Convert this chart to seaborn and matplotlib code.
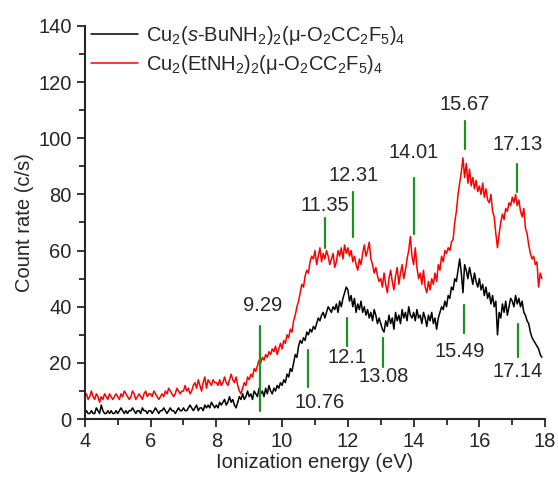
import numpy as np
import pandas as pd
import matplotlib.pyplot as plt
import seaborn as sns

# photoelectron spectra, sampled every 0.05 eV from 4.0 to 17.9 eV
energy = np.round(np.arange(4.0, 17.9001, 0.05), 2)

sbu_rate = [
    2, 3, 2, 2, 3, 2, 2, 4, 3, 2, 5, 3, 2, 2, 3, 2, 3, 2, 2, 3,            # 4-5
    2, 3, 4, 3, 2, 3, 2, 3, 3, 4, 3, 2, 3, 3, 2, 4, 3, 3, 2, 3,            # 5-6
    3, 2, 3, 4, 3, 2, 3, 3, 4, 3, 2, 3, 4, 3, 3, 2, 3, 4, 3, 3,            # 6-7
    4, 3, 3, 4, 5, 4, 3, 4, 5, 3, 4, 4, 3, 5, 4, 5, 4, 6, 5, 4,            # 7-8
    5, 4, 6, 5, 6, 7, 5, 6, 8, 6, 7, 5, 4, 6, 8, 7, 9, 7, 8, 10,           # 8-9
    8, 9, 7, 10, 9, 8, 11, 9, 10, 8, 11, 9, 12, 10, 9, 11, 10, 12, 11, 13,  # 9-10
    12, 14, 13, 16, 15, 18, 17, 20, 23, 22, 26, 28, 27, 29, 28, 31, 30, 32, 31, 33,  # 10-11
    32, 34, 36, 35, 37, 38, 36, 38, 40, 39, 38, 40, 39, 41, 38, 42, 40, 43, 45, 47,  # 11-12
    46, 42, 44, 40, 43, 38, 41, 39, 42, 38, 40, 37, 39, 36, 38, 35, 39, 37, 34, 36,  # 12-13
    34, 32, 31, 35, 33, 37, 34, 36, 32, 38, 35, 37, 34, 39, 36, 38, 35, 40, 37, 36,  # 13-14
    38, 35, 39, 36, 37, 34, 38, 36, 33, 37, 35, 38, 34, 36, 32, 36, 38, 40, 39, 42,  # 14-15
    40, 44, 43, 47, 46, 50, 49, 53, 57, 52, 45, 55, 53, 50, 54, 51, 48, 52, 49, 47,  # 15-16
    50, 46, 48, 44, 47, 43, 45, 41, 44, 40, 42, 30, 38, 36, 41, 38, 42, 37, 40, 43,  # 16-17
    42, 40, 44, 41, 43, 40, 42, 38, 37, 35, 34, 31, 29, 28, 27, 26, 25, 23, 22,      # 17-17.9
]

et_rate = [
    8, 9, 7, 8, 10, 8, 7, 9, 8, 6, 8, 7, 9, 8, 7, 9, 8, 7, 8, 9,
    8, 7, 9, 8, 10, 9, 8, 7, 8, 10, 9, 7, 8, 9, 8, 7, 9, 10, 8, 9,
    9, 8, 10, 9, 8, 7, 8, 9, 8, 10, 9, 11, 10, 9, 8, 9, 11, 10, 9, 10,
    10, 12, 10, 11, 9, 10, 12, 13, 11, 14, 12, 10, 13, 15, 11, 14, 13, 12, 14, 13,
    13, 12, 14, 12, 13, 15, 13, 12, 14, 16, 14, 13, 15, 12, 10, 9, 11, 13, 12, 15,
    14, 16, 15, 18, 17, 19, 21, 20, 22, 21, 23, 22, 24, 23, 25, 24, 26, 23, 25, 27,
    25, 28, 27, 30, 29, 32, 31, 35, 37, 40, 42, 45, 48, 47, 51, 53, 52, 56, 58, 57,
    60, 55, 58, 61, 56, 59, 57, 60, 58, 55, 57, 59, 54, 56, 60, 58, 61, 57, 62, 59,
    61, 58, 60, 56, 58, 55, 53, 57, 55, 59, 62, 58, 60, 63, 57, 55, 52, 54, 51, 49,
    50, 47, 52, 48, 45, 50, 53, 49, 46, 51, 54, 48, 52, 55, 50, 53, 57, 60, 65, 58,
    55, 61, 54, 50, 52, 48, 53, 47, 45, 49, 46, 50, 48, 52, 49, 55, 53, 58, 56, 60,
    59, 61, 60, 63, 64, 70, 74, 80, 84, 88, 93, 86, 91, 84, 89, 83, 86, 82, 85, 81,
    83, 80, 84, 79, 82, 78, 77, 80, 74, 72, 66, 61, 66, 70, 73, 71, 75, 74, 77, 76,
    79, 77, 80, 76, 78, 74, 72, 75, 68, 66, 62, 59, 57, 58, 55, 56, 47, 52, 50,
]

labels = [
    r'Cu$_2$($s$-BuNH$_2$)$_2$(μ-O$_2$CC$_2$F$_5$)$_4$',
    r'Cu$_2$(EtNH$_2$)$_2$(μ-O$_2$CC$_2$F$_5$)$_4$',
]

# band markers: text, line x, line bottom, line top, label x, label y
peak_text = ['9.29', '10.76', '12.1', '13.08', '15.49', '17.14',
             '11.35', '12.31', '14.01', '15.67', '17.13']
peak_x = [9.32, 10.8, 11.97, 13.07, 15.52, 17.16,
          11.3, 12.17, 14.01, 15.56, 17.15]
line_lo = [3, 11.5, 26, 18.5, 30.5, 22, 61, 65, 66, 96, 81]
line_hi = [33, 24.5, 36, 29, 40.5, 34, 71.5, 81, 86, 106, 91]
text_x = [9.42, 11.15, 11.97, 13.1, 15.41, 17.15, 11.3, 12.16, 14.01, 15.56, 17.15]
text_y = [40.6, 6, 22, 15, 24, 17, 76, 86.6, 95, 112, 97.6]

df = pd.concat([
    pd.DataFrame({'energy': energy, 'rate': sbu_rate, 'compound': labels[0]}),
    pd.DataFrame({'energy': energy, 'rate': et_rate, 'compound': labels[1]}),
])

sns.set_style('ticks')
plt.rcParams['font.family'] = ['Liberation Sans', 'DejaVu Sans']
plt.rcParams['mathtext.fontset'] = 'custom'
plt.rcParams['mathtext.rm'] = 'Liberation Sans'
plt.rcParams['mathtext.it'] = 'Liberation Sans:italic'

fig = plt.figure(figsize=(5.58, 4.79), dpi=100)
ax = fig.add_axes([0.152, 0.125, 0.825, 0.821])

sns.lineplot(data=df, x='energy', y='rate', hue='compound',
             palette=['black', 'red'], linewidth=1.1, ax=ax)

fs = 14.5
green = '#1f8f1f'
for i in range(len(peak_text)):
    ax.plot([peak_x[i], peak_x[i]], [line_lo[i], line_hi[i]], color=green, lw=1.6)
    ax.text(text_x[i], text_y[i], peak_text[i], ha='center', va='center', fontsize=fs)

ax.set_xlim(4, 18)
ax.set_ylim(0, 140)
ax.set_xticks(range(4, 19, 2))
ax.set_xticks(range(5, 18, 2), minor=True)
ax.set_yticks(range(0, 141, 20))
ax.set_yticks(range(10, 140, 20), minor=True)
ax.tick_params(which='major', length=6, width=1.3, labelsize=fs, direction='out')
ax.tick_params(which='minor', length=4, width=1.3, direction='out')
for s in ['left', 'bottom']:
    ax.spines[s].set_linewidth(1.5)
sns.despine(ax=ax)

ax.set_xlabel('Ionization energy (eV)', fontsize=fs, labelpad=1)
ax.set_ylabel('Count rate (c/s)', fontsize=fs, labelpad=3)

ax.legend(frameon=False, loc='upper left', bbox_to_anchor=(-0.012, 1.035),
          fontsize=fs, handlelength=2.3, handletextpad=0.4, labelspacing=0.3,
          borderaxespad=0.2)

plt.savefig('out.png', dpi=100)
